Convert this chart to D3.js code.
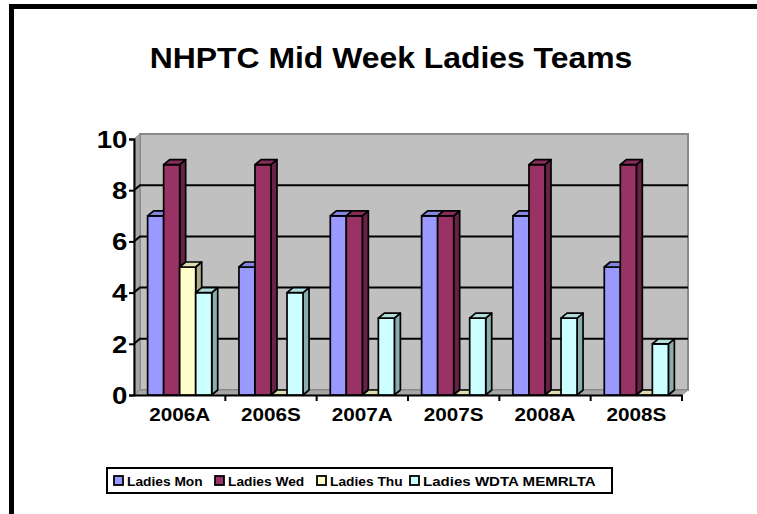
<!DOCTYPE html>
<head>
    <style>
        body { margin: 0; background: #fff; overflow: hidden; }
        svg { display: block; }
        svg text { font-family: "Liberation Sans", Arial, sans-serif; font-weight: bold; fill: #000; }
    </style>
    <script src='https://d3js.org/d3.v7.min.js'></script>
</head>
<body>
    <script>
        // data
        const categories = ['2006A', '2006S', '2007A', '2007S', '2008A', '2008S'];
        const seriesNames = ['Ladies Mon', 'Ladies Wed', 'Ladies Thu', 'Ladies WDTA MEMRLTA'];
        const ladiesMon  = [7, 5, 7, 7, 7, 5];
        const ladiesWed  = [9, 9, 7, 7, 9, 9];
        const ladiesThu  = [5, 0, 0, 0, 0, 0];
        const ladiesWdta = [4, 4, 3, 3, 3, 2];
        const yTicks = [0, 2, 4, 6, 8, 10];
        const colors = ['#9999FF', '#993366', '#FFFFCC', '#CCFFFF'];

        const values = [ladiesMon, ladiesWed, ladiesThu, ladiesWdta];

        const width = 757, height = 514;
        const DX = 6, DY = -5;   // 3d depth offset

        const svg = d3.select('body').append('svg')
            .attr('width', width)
            .attr('height', height);

        // outer chart frame (runs off the right/bottom edge)
        svg.append('path')
            .attr('d', `M11.5,${height + 10}L11.5,6.5L${width + 10},6.5`)
            .attr('fill', 'none')
            .attr('stroke', '#000')
            .attr('stroke-width', 5);

        // the original text is a bit wider than the font, so stretch it
        svg.append('text')
            .attr('transform', 'translate(391,68) scale(1.1,1)')
            .attr('text-anchor', 'middle')
            .style('font-size', '29px')
            .text('NHPTC Mid Week Ladies Teams');

        const x = d3.scaleBand().domain(categories).range([134, 682]);
        const xs = d3.scaleBand().domain(d3.range(4))
            .range([0, x.bandwidth()])
            .paddingOuter(0.85);
        const y = d3.scaleLinear().domain([0, 10]).range([395, 139]);

        const [x0, x1] = x.range();

        // walls
        const walls = svg.append('g');
        walls.append('rect')
            .attr('x', x0 + DX).attr('y', y(10) + DY)
            .attr('width', x1 - x0).attr('height', y(0) - y(10))
            .attr('fill', '#C0C0C0')
            .attr('stroke', '#8a8a8a').attr('stroke-width', 2);
        walls.append('path')
            .attr('d', `M${x0},${y(0)}L${x0},${y(10)}L${x0 + DX},${y(10) + DY}L${x0 + DX},${y(0) + DY}Z`)
            .attr('fill', '#a6a6a6').attr('stroke', '#8a8a8a');
        walls.append('path')
            .attr('d', `M${x0},${y(0)}L${x0 + DX},${y(0) + DY}L${x1 + DX},${y(0) + DY}L${x1},${y(0)}Z`)
            .attr('fill', '#a6a6a6').attr('stroke', '#8a8a8a');

        // gridlines
        walls.selectAll('path.grid')
            .data(yTicks.filter(d => d > 0 && d < 10))
            .join('path')
            .attr('class', 'grid')
            .attr('d', d => `M${x0},${y(d)}L${x0 + DX},${y(d) + DY}L${x1 + DX},${y(d) + DY}`)
            .attr('fill', 'none')
            .attr('stroke', '#000')
            .attr('stroke-width', 2);

        // bars
        const bars = [];
        categories.forEach((c, i) => {
            values.forEach((s, j) => {
                bars.push({ cat: c, s: j, v: s[i] });
            });
        });

        const g = svg.selectAll('g.bar')
            .data(bars)
            .join('g')
            .attr('class', 'bar')
            .attr('stroke', '#000')
            .attr('stroke-width', 1.7)
            .attr('stroke-linejoin', 'round');

        g.each(function (d) {
            const el = d3.select(this);
            const bx = x(d.cat) + xs(d.s), bw = xs.bandwidth();
            const top = y(d.v), base = y(0);
            const c = d3.color(colors[d.s]);
            if (d.v > 0) {
                el.append('path')
                    .attr('d', `M${bx + bw},${base}L${bx + bw + DX},${base + DY}L${bx + bw + DX},${top + DY}L${bx + bw},${top}Z`)
                    .attr('fill', c.darker(1.1));
                el.append('rect')
                    .attr('x', bx).attr('y', top)
                    .attr('width', bw).attr('height', base - top)
                    .attr('fill', c);
            }
            el.append('path')
                .attr('d', `M${bx},${top}L${bx + DX},${top + DY}L${bx + bw + DX},${top + DY}L${bx + bw},${top}Z`)
                .attr('fill', c.darker(0.4));
        });

        // axes
        const yAxis = svg.append('g')
            .attr('transform', `translate(${x0},0)`)
            .call(d3.axisLeft(y).tickValues(yTicks).tickSize(5).tickPadding(0));
        yAxis.select('.domain').attr('stroke-width', 2);
        yAxis.selectAll('.tick line').attr('stroke-width', 2);
        yAxis.selectAll('.tick text')
            .attr('x', -5.5)
            .attr('dy', '0.36em')
            .attr('transform', 'scale(1.2,1)')
            .style('font-size', '23px')
            .style('font-family', '"Liberation Sans", Arial, sans-serif')
            .style('font-weight', 'bold');

        const xAxis = svg.append('g')
            .attr('transform', `translate(0,${y(0)})`)
            .call(d3.axisBottom(x).tickSize(0).tickPadding(13));
        xAxis.select('.domain').attr('stroke-width', 2);
        xAxis.selectAll('.tick text')
            .attr('transform', 'scale(1.15,1)')
            .style('font-size', '18px')
            .style('font-family', '"Liberation Sans", Arial, sans-serif')
            .style('font-weight', 'bold');
        xAxis.selectAll('.tick')
            .attr('transform', d => `translate(${x(d) + x.bandwidth() / 2},0)`);
        xAxis.selectAll('line.sep')
            .data(categories)
            .join('line')
            .attr('class', 'sep')
            .attr('x1', d => x(d) + x.bandwidth())
            .attr('x2', d => x(d) + x.bandwidth())
            .attr('y1', 0).attr('y2', 6)
            .attr('stroke', '#000').attr('stroke-width', 2);

        // legend
        const legend = svg.append('g');
        legend.append('rect')
            .attr('x', 107).attr('y', 468)
            .attr('width', 505).attr('height', 25)
            .attr('fill', '#fff')
            .attr('stroke', '#000').attr('stroke-width', 2);
        const legendX = [114, 215, 317, 410];
        const item = legend.selectAll('g.item')
            .data(seriesNames)
            .join('g')
            .attr('class', 'item')
            .attr('transform', (d, i) => `translate(${legendX[i]},476)`);
        item.append('rect')
            .attr('width', 9).attr('height', 9)
            .attr('fill', (d, i) => colors[i])
            .attr('stroke', '#000').attr('stroke-width', 1.8);
        item.append('text')
            .attr('transform', (d, i) => `translate(13,9.8) scale(${i === 3 ? 1.16 : 1.06},1)`)
            .style('font-size', '13px')
            .text(d => d);
    </script>
</body>
